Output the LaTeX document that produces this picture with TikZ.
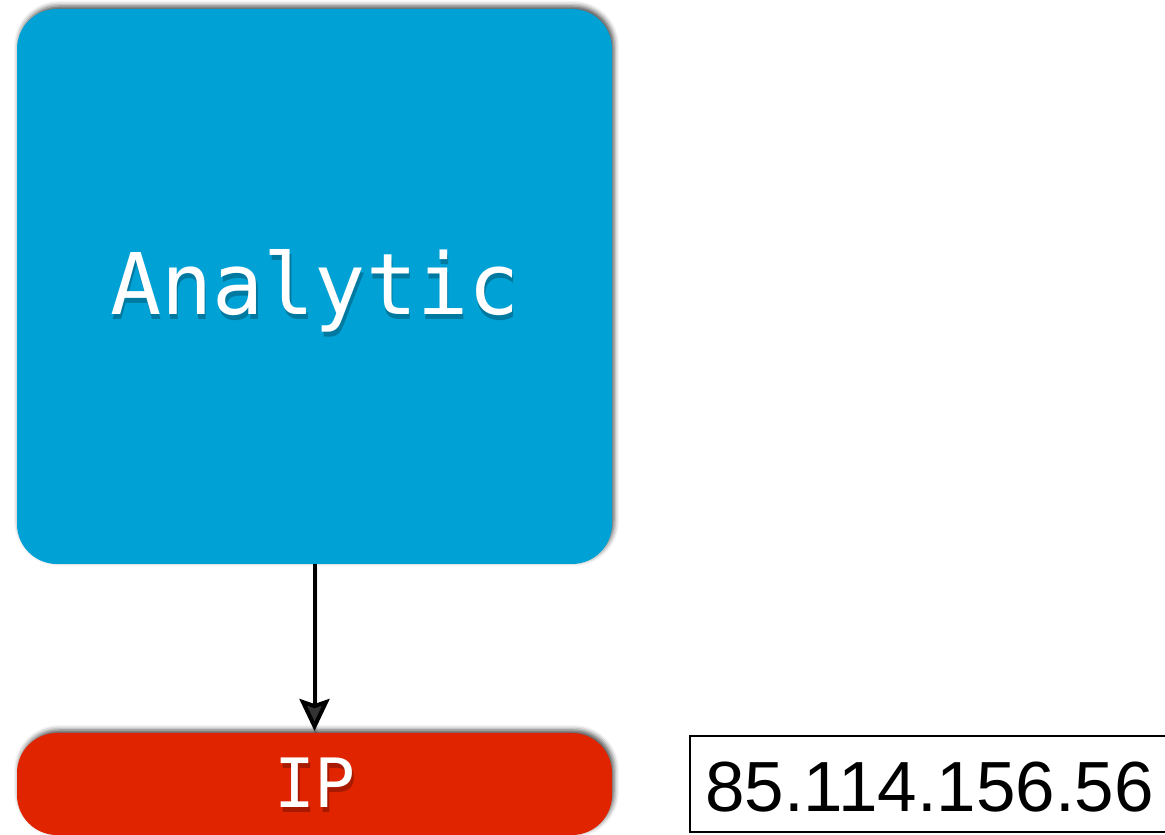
\documentclass[tikz,border=0pt]{standalone}
\usepackage{fontspec}
\usetikzlibrary{shadows.blur,arrows.meta}
\newfontfamily\monofont{DejaVu Sans Mono}
\newfontfamily\addrfont{Liberation Sans}
\definecolor{boxblue}{RGB}{0,162,214}
\definecolor{boxred}{RGB}{224,36,0}
\tikzset{
  panel/.style={rounded corners=40pt, inner sep=0pt,
    blur shadow={shadow xshift=2pt, shadow yshift=3pt, shadow blur radius=5pt, shadow opacity=70}},
  bigtext/.style={text=white, font=\monofont\fontsize{85}{85}\selectfont, inner sep=0pt, anchor=base},
  midtext/.style={text=white, font=\monofont\fontsize{68}{68}\selectfont, inner sep=0pt, anchor=base},
  textshade/.style={text=black, opacity=0.25},
  link/.style={line width=4pt, -{Stealth[length=32pt,width=30pt,inset=5pt]},
    blur shadow={shadow xshift=1pt, shadow yshift=-2pt, shadow blur radius=3pt, shadow opacity=40}}
}
\begin{document}
\begin{tikzpicture}[x=1pt,y=1pt]
  \useasboundingbox (0,0) rectangle (1165,835);
  % coloured panels
  \path[panel, fill=boxblue] (17,271) rectangle (612,826);
  \node[coordinate] (blueb) at (314.5,271) {};
  \path[panel, fill=boxred] (17,0) rectangle (612,102);
  \node[coordinate] (redt) at (314.5,104) {};
  % labels with a soft drop shade
  \node[bigtext, textshade] (analytic-shade) at (316.5,515) {Analytic};
  \node[bigtext] (analytic) at (315,520) {Analytic};
  \node[midtext, textshade] (ip-shade) at (317,22) {IP};
  \node[midtext] (ip) at (315,27) {IP};
  % connector
  \draw[link] (blueb) -- (redt);
  % address box
  \node[draw, line width=2pt, minimum width=500pt, minimum height=96pt, anchor=south west] (addrbox) at (689,2) {};
  \node[font=\addrfont\fontsize{71}{71}\selectfont, inner sep=0pt, anchor=base west] (addr) at (705,23) {85.114.156.56};
\end{tikzpicture}
\end{document}
